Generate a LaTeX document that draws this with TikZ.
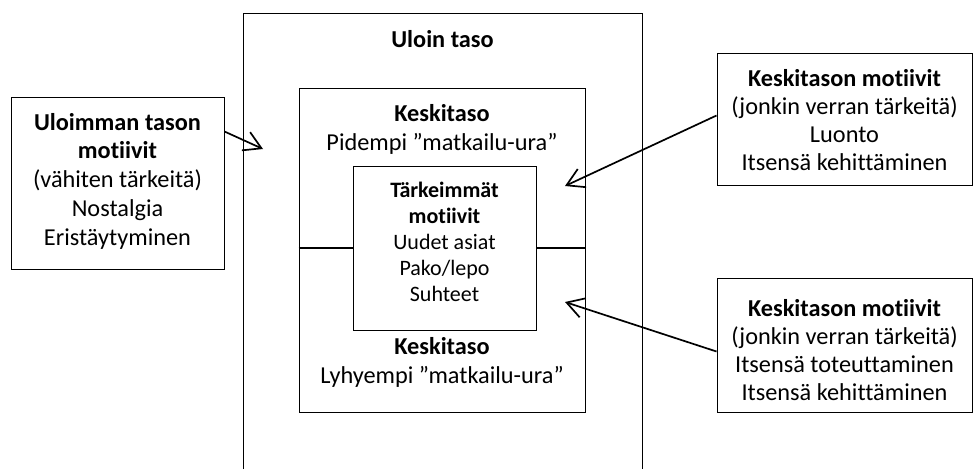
\documentclass[tikz,border=0pt]{standalone}
\usepackage{fontspec}
\setmainfont{Carlito}[Ligatures={NoCommon,NoRare}]
\usetikzlibrary{arrows.meta,calc}
\begin{document}
\begin{tikzpicture}[x=1pt,y=-1pt,
  box/.style={draw,line width=1pt,inner sep=0pt},
  bigtxt/.style={align=center,anchor=base,inner sep=0pt,font=\fontsize{24.3}{28.7}\selectfont},
  rtxt/.style={align=center,anchor=base,inner sep=0pt,font=\fontsize{24.3}{27.8}\selectfont},
  smalltxt/.style={align=center,anchor=base,inner sep=0pt,font=\fontsize{22}{26}\selectfont},
  arr/.style={line width=1.7pt,-{Straight Barb[length=17pt,width=20pt,line width=1.7pt]}}]
\useasboundingbox (0,0) rectangle (973,469);
% outer level (open at the bottom)
\coordinate (obl) at (243,469);
\coordinate (obr) at (642,469);
\draw[line width=1pt] (obl) |- (642,13) -- (obr);
\node[bigtxt] (ulo) at (442.5,47) {\textbf{Uloin taso}};
% middle box
\node[box,minimum width=286pt,minimum height=324pt] (mid) at (442,250) {};
\node[bigtxt] (midtop) at (442,150) {\textbf{Keskitaso}\\Pidempi ”matkailu-ura”};
\node[bigtxt] (midbot) at (442,383) {\textbf{Keskitaso}\\Lyhyempi ”matkailu-ura”};
% inner box
\node[box,fill=white,minimum width=183pt,minimum height=164pt] (inn) at (444.5,248) {};
\draw[line width=1.5pt] (mid.west |- inn.west) -- (inn.west);
\draw[line width=1.5pt] (inn.east) -- (mid.east |- inn.east);
\node[smalltxt] (inntxt) at (444.5,301) {\textbf{Tärkeimmät}\\\textbf{motiivit}\\Uudet asiat\\Pako/lepo\\Suhteet};
% left box
\node[box,minimum width=213pt,minimum height=172pt] (lb) at (117.5,183) {};
\node[bigtxt] (lbtxt) at (117.5,245) {\textbf{Uloimman tason}\\\textbf{motiivit}\\(vähiten tärkeitä)\\Nostalgia\\Eristäytyminen};
% right boxes
\node[box,minimum width=255pt,minimum height=132pt] (rb1) at (844.5,119) {};
\node[rtxt] (rb1txt) at (844.5,170) {\textbf{Keskitason motiivit}\\(jonkin verran tärkeitä)\\Luonto\\Itsensä kehittäminen};
\node[box,minimum width=255pt,minimum height=134pt] (rb2) at (844.5,345) {};
\node[rtxt] (rb2txt) at (844.5,400) {\textbf{Keskitason motiivit}\\(jonkin verran tärkeitä)\\Itsensä toteuttaminen\\Itsensä kehittäminen};
% arrows
\coordinate (t1) at (263,149);
\coordinate (t2) at (565,186);
\coordinate (t3) at (565,302);
\draw[arr] ($(lb.north east)+(0,35)$) -- (t1);
\draw[arr] ($(rb1.north west)+(0,63)$) -- (t2);
\draw[arr] ($(rb2.north west)+(0,74)$) -- (t3);
\end{tikzpicture}
\end{document}
